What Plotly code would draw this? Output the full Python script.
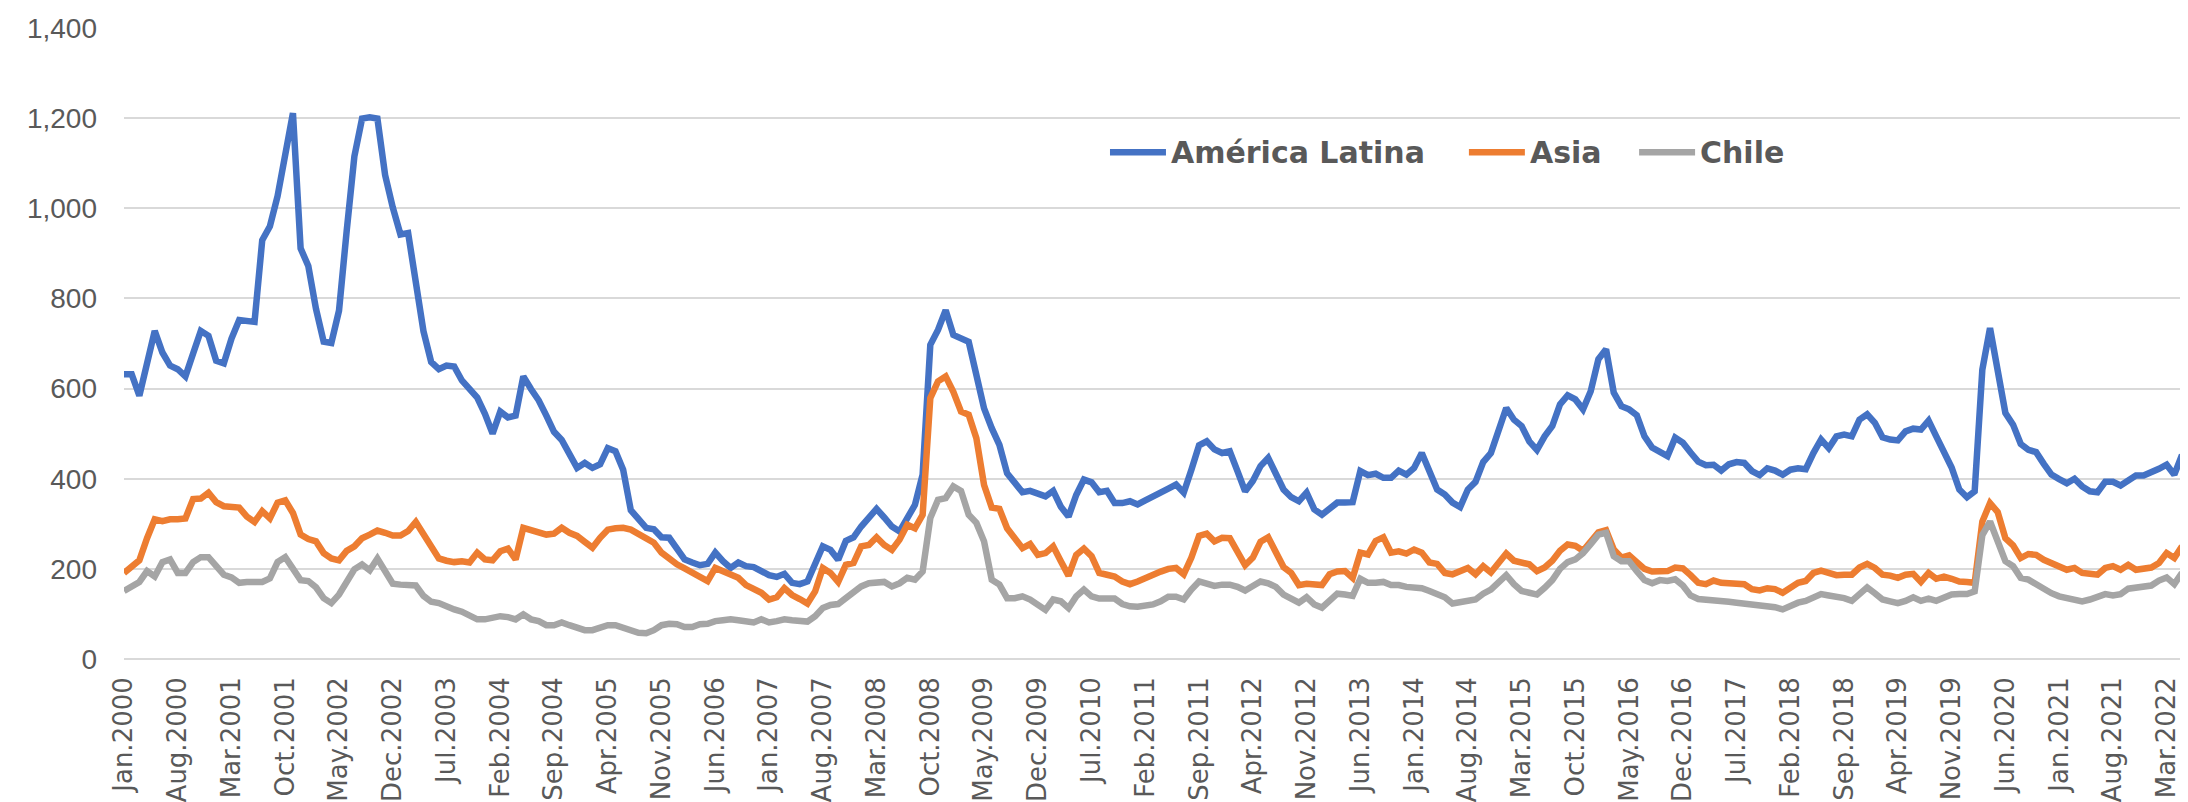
import plotly.graph_objects as go

# Monthly categories, Jan.2000 - May.2022
meses = ["Jan", "Feb", "Mar", "Apr", "May", "Jun", "Jul", "Aug", "Sep", "Oct", "Nov", "Dec"]
fechas = [f"{m}.{a}" for a in range(2000, 2023) for m in meses][:269]

america_latina = [
    632, 632, 584, 657, 728, 680, 651, 643, 627, 678, 728, 717, 662, 656, 711, 752, 751, 748, 929, 960,
    1027, 1120, 1211, 911, 872, 777, 704, 701, 773, 950, 1115, 1199, 1202, 1199, 1074, 1002, 942, 945, 840, 727,
    659, 643, 651, 649,
    618, 601, 580, 544, 500, 549, 536, 540, 627, 599, 574, 540, 504, 486, 457, 424, 435, 424, 432, 468,
    461, 420, 330, 313, 291, 288, 270, 269, 247, 221, 214, 208, 211, 236, 217, 202, 214, 206, 204, 195,
    186, 182, 189, 169, 166, 172,
    209, 250, 242, 220, 262, 270, 294, 311, 333, 314, 294, 283, 316, 342, 409, 697, 730, 774, 719, 712,
    704, 630, 556, 512, 475, 412, 390, 370, 373, 368, 361, 373, 338, 316, 364, 398, 392, 370, 373, 346,
    346, 350,
    343, 352, 362, 372, 378, 387, 369, 420, 474, 483, 465, 457, 461, 417, 372, 395, 428, 446, 413, 376,
    359, 350, 369, 332, 320, 332, 347, 347, 348, 417, 408, 411, 402, 402, 418, 409, 424, 457, 417, 376,
    365, 347, 337, 376, 393,
    437, 457, 505, 557, 531, 517, 483, 464, 494, 517, 565, 585, 576, 554, 594, 665, 687, 591, 561, 554,
    541, 494, 469, 458, 450, 491, 480, 458, 438, 430, 431, 418, 432, 437, 435, 417, 408, 423, 418, 409,
    420, 423, 421, 457,
    487, 468, 494, 498, 494, 531, 543, 524, 492, 487, 485, 505, 511, 509, 529, 494, 459, 425, 376, 359,
    372, 642, 734, 631, 546, 520, 477, 464, 459, 433, 409, 399, 390, 400, 383, 372, 370, 393, 393, 385,
    398, 407, 407, 413, 422, 431, 409, 453,
]

asia = [
    191, 203, 219, 268, 310, 306, 310, 310, 312, 355, 356, 369, 348, 339, 339, 336, 316, 304, 328, 312,
    347, 352, 324, 276, 266, 261, 235, 223, 219, 240, 250, 268, 276, 285, 280, 274, 274, 284, 304, 276,
    245, 223, 218, 215,
    217, 214, 236, 221, 219, 239, 245, 221, 291, 287, 280, 276, 278, 291, 280, 273, 260, 247, 269, 287,
    290, 291, 287, 276, 265, 258, 236, 221, 210, 201, 191, 180, 173, 202, 195, 186, 180, 164, 157, 147,
    132, 137, 157, 142, 133, 123,
    150, 202, 191, 171, 209, 213, 250, 253, 270, 253, 242, 265, 298, 290, 320, 579, 616, 627, 593, 549,
    542, 490, 386, 336, 333, 290, 268, 246, 255, 231, 235, 250, 217, 185, 231, 245, 228, 191, 187, 183,
    172, 166,
    172, 180, 187, 194, 200, 202, 188, 225, 273, 278, 261, 269, 268, 239, 208, 225, 260, 270, 239, 204,
    191, 164, 167, 166, 164, 188, 194, 195, 180, 236, 232, 262, 270, 236, 239, 234, 243, 236, 214, 211,
    191, 188, 195, 202, 188,
    206, 192, 213, 234, 218, 214, 210, 195, 203, 218, 240, 254, 251, 240, 262, 281, 286, 243, 225, 230,
    215, 200, 194, 193, 195, 203, 201, 186, 169, 166, 174, 169, 167, 166, 166, 155, 152, 157, 155, 147,
    158, 169, 173, 191,
    196, 191, 186, 187, 187, 203, 211, 202, 187, 185, 180, 187, 189, 171, 191, 178, 183, 178, 172, 171,
    169, 305, 346, 326, 268, 252, 224, 233, 231, 220, 213, 206, 198, 202, 191, 189, 187, 202, 206, 198,
    209, 198, 202, 203, 213, 235, 224, 250,
]

chile = [
    151, 160, 171, 195, 183, 215, 221, 191, 191, 215, 226, 226, 207, 187, 181, 169, 171, 171, 171, 179,
    215, 226, 199, 175, 173, 159, 135, 124, 143, 171, 199, 210, 197, 223, 195, 167, 165, 163, 163, 140,
    127, 124, 115, 110,
    105, 98, 88, 88, 92, 95, 93, 88, 99, 88, 84, 75, 75, 81, 75, 69, 64, 64, 69, 75,
    75, 69, 62, 58, 57, 64, 75, 78, 77, 71, 71, 77, 78, 84, 86, 88, 86, 83, 81, 88,
    81, 84, 88, 86, 83, 83,
    95, 113, 120, 122, 135, 150, 161, 168, 171, 171, 161, 168, 180, 176, 194, 313, 353, 357, 383, 373,
    320, 302, 261, 176, 165, 135, 135, 139, 132, 120, 109, 132, 128, 113, 139, 154, 139, 134, 135, 134,
    122, 117,
    116, 118, 121, 128, 138, 138, 132, 154, 172, 167, 162, 165, 165, 160, 152, 162, 172, 168, 160, 143,
    134, 125, 137, 121, 114, 132, 145, 143, 140, 178, 169, 169, 171, 164, 164, 160, 160, 157, 151, 143,
    137, 123, 125, 129, 132,
    145, 154, 170, 186, 166, 151, 147, 143, 158, 175, 200, 215, 221, 235, 255, 276, 280, 228, 217, 217,
    195, 175, 168, 175, 173, 177, 163, 141, 133, 132, 132, 130, 127, 125, 123, 121, 121, 118, 115, 110,
    118, 125, 129, 136,
    144, 141, 139, 135, 129, 146, 159, 146, 132, 128, 124, 129, 137, 129, 134, 129, 135, 143, 144, 144,
    150, 275, 305, 261, 217, 206, 180, 176, 165, 154, 146, 139, 135, 134, 128, 132, 137, 144, 141, 144,
    156, 159, 159, 163, 174, 181, 166, 191,
]

nombres = ["América Latina", "Asia", "Chile"]
series = [america_latina, asia, chile]
colores = ["#4472C4", "#ED7D31", "#A5A5A5"]

fig = go.Figure()

# soft shadow under each line (drawn on a hidden, slightly shifted axis pair)
for valores in series:
    fig.add_trace(go.Scatter(
        x=fechas, y=valores, mode="lines", xaxis="x", yaxis="y",
        line=dict(color="rgba(0,0,0,0.10)", width=10),
        hoverinfo="skip", showlegend=False
    ))

# main lines
for nombre, valores, color in zip(nombres, series, colores):
    fig.add_trace(go.Scatter(
        x=fechas, y=valores, mode="lines", name=nombre, xaxis="x2", yaxis="y2",
        line=dict(color=color, width=6.5),
        showlegend=False
    ))

n = len(fechas)

# legend drawn by hand so the line samples are long like in the original
leyenda_x = [0.4791, 0.6535, 0.7362]
muestra = 0.0272
leyenda_y = 0.803
shapes = []
annotations = []
for nombre, color, x0 in zip(nombres, colores, leyenda_x):
    shapes.append(dict(type="line", xref="paper", yref="paper",
                       x0=x0, x1=x0 + muestra, y0=leyenda_y, y1=leyenda_y,
                       line=dict(color=color, width=6.5)))
    annotations.append(dict(xref="paper", yref="paper", x=x0 + muestra + 0.0015, y=leyenda_y,
                            xanchor="left", yanchor="middle", showarrow=False, text=nombre,
                            font=dict(family="DejaVu Sans", size=30, color="#595959", weight="bold")))

fig.update_layout(
    width=2188, height=802,
    margin=dict(l=116, r=14, t=20, b=151),
    paper_bgcolor="white", plot_bgcolor="white",
    showlegend=False,
    shapes=shapes,
    annotations=annotations,
    xaxis=dict(type="category", range=[-0.28, n - 1 - 0.28], visible=False, domain=[0, 1], anchor="y"),
    yaxis=dict(range=[9, 1409], visible=False, domain=[0, 1], anchor="x"),
    xaxis2=dict(
        type="category", range=[0, n - 1], domain=[0, 1], anchor="y2",
        tickmode="array", tickvals=fechas[::7], ticktext=fechas[::7],
        tickangle=-90, ticks="", showgrid=False, showline=False, zeroline=False,
        tickfont=dict(family="DejaVu Sans", size=26, color="#595959"),
        ticklabelstandoff=12, automargin=False
    ),
    yaxis2=dict(
        range=[0, 1400], dtick=200, tickformat=",d", domain=[0, 1], anchor="x2",
        showgrid=True, gridcolor="#D9D9D9", gridwidth=1.5,
        zeroline=True, zerolinecolor="#D9D9D9", zerolinewidth=1.5,
        ticks="", showline=False,
        tickfont=dict(family="Liberation Sans", size=28, color="#595959"),
        ticklabelstandoff=26, automargin=False
    ),
)

fig.write_html("out.html")
